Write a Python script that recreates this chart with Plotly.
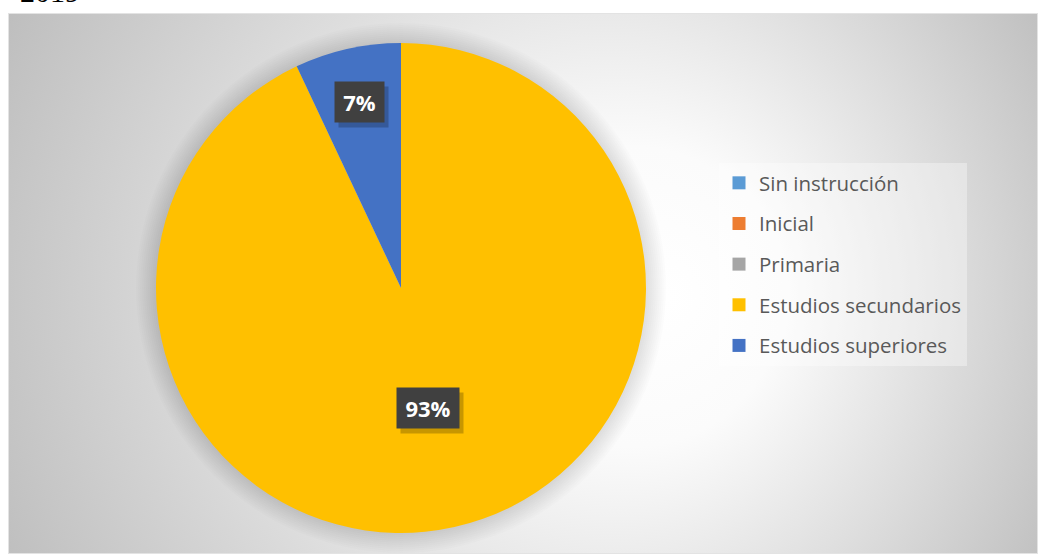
import base64
import math

import plotly.graph_objects as go

# ==========================================================
# DATA
# ==========================================================

categories = [
    "Sin instrucción",
    "Inicial",
    "Primaria",
    "Estudios secundarios",
    "Estudios superiores",
]
shares = [0, 0, 0, 93, 7]
colours = ["#5B9BD5", "#ED7D31", "#A5A5A5", "#FFC000", "#4472C4"]
caption_text = "2019"

# ==========================================================
# LAYOUT CONSTANTS
# ==========================================================

W, H = 1038, 554
PIE_CX, PIE_CY, PIE_R = 401, 288, 245   # pixels, from top-left
BOX_X, BOX_Y = 8, 13                    # chart-area box origin

dom_x = [(PIE_CX - PIE_R) / W, (PIE_CX + PIE_R) / W]
dom_y = [(H - PIE_CY - PIE_R) / H, (H - PIE_CY + PIE_R) / H]

fig = go.Figure()

# Pie itself (clockwise from 12 o'clock, like Excel)
fig.add_trace(
    go.Pie(
        labels=categories,
        values=shares,
        sort=False,
        direction="clockwise",
        rotation=0,
        marker=dict(colors=colours, line=dict(width=0)),
        textinfo="none",
        hoverinfo="label+percent",
        showlegend=False,
        domain=dict(x=dom_x, y=dom_y),
    )
)

# Legend entries, one group per category so the gap can be set
for name, col in zip(categories, colours):
    fig.add_trace(
        go.Scatter(
            x=[None], y=[None],
            mode="markers",
            name=name,
            legendgroup=name,
            marker=dict(symbol="square", size=13, color=col),
        )
    )

# ==========================================================
# DATA LABELS (dark boxes, white bold text, drop shadow)
# ==========================================================

total = sum(shares)
cum = 0
for name, val in zip(categories, shares):
    if val == 0:
        continue
    frac = val / total
    mid = (cum + frac / 2) * 2 * math.pi
    cum += frac
    r_frac = 0.78 if frac < 0.25 else 0.5
    px_x = PIE_CX + r_frac * PIE_R * math.sin(mid)
    px_y = PIE_CY - r_frac * PIE_R * math.cos(mid)
    label = f"{round(frac * 100)}%"
    box_w = 13 * len(label) + 11
    for shadow in (True, False):
        fig.add_annotation(
            x=px_x / W, y=1 - px_y / H,
            xref="paper", yref="paper",
            xanchor="center", yanchor="middle",
            text="\u00a0" if shadow else label,
            showarrow=False,
            width=box_w, height=28,
            borderpad=6,
            bgcolor="rgba(0,0,0,0.22)" if shadow else "#404040",
            font=dict(family="Open Sans", size=22, weight=700, color="white"),
            xshift=4 if shadow else 0,
            yshift=-5 if shadow else 0,
        )

# Cut-off caption above the chart
fig.add_annotation(
    x=18 / W, y=1, xref="paper", yref="paper",
    xanchor="left", yanchor="bottom",
    yshift=-10,
    text=caption_text,
    showarrow=False,
    font=dict(family="Liberation Serif", size=30, color="black"),
)

# ==========================================================
# BACKGROUND: radial gradient chart area + soft pie shadow
# ==========================================================

bw, bh = W - BOX_X, H - BOX_Y
svg = f"""<svg xmlns="http://www.w3.org/2000/svg" width="{bw}" height="{bh}" viewBox="0 0 {bw} {bh}" preserveAspectRatio="none">
<defs><radialGradient id="g" gradientUnits="userSpaceOnUse" cx="520" cy="280" r="600" fx="660" fy="285">
<stop offset="0" stop-color="#ffffff"/><stop offset="0.25" stop-color="#fbfbfb"/>
<stop offset="1" stop-color="#bdbdbd"/></radialGradient></defs>
<rect x="0.5" y="0.5" width="{bw - 1}" height="{bh - 1}" fill="url(#g)" stroke="#e3e3e3" stroke-width="1"/></svg>"""
svg_src = "data:image/svg+xml;base64," + base64.b64encode(svg.encode()).decode()

fig.add_layout_image(
    source=svg_src,
    xref="paper", yref="paper",
    x=BOX_X / W, y=1 - BOX_Y / H,
    sizex=bw / W, sizey=bh / H,
    xanchor="left", yanchor="top",
    sizing="stretch",
    layer="below",
)

for k in range(1, 11):
    rr = PIE_R + 2 * k
    fig.add_shape(
        type="circle",
        xref="paper", yref="paper",
        x0=(PIE_CX - rr) / W, x1=(PIE_CX + rr) / W,
        y0=(H - PIE_CY - rr) / H, y1=(H - PIE_CY + rr) / H,
        fillcolor="rgba(0,0,0,0.012)",
        line=dict(width=0),
        layer="below",
    )

fig.update_layout(
    width=W,
    height=H,
    margin=dict(l=0, r=0, t=0, b=0),
    paper_bgcolor="white",
    plot_bgcolor="rgba(0,0,0,0)",
    xaxis=dict(visible=False, range=[0, 1]),
    yaxis=dict(visible=False, range=[0, 1]),
    showlegend=True,
    legend=dict(
        x=719 / W, y=1 - 163 / H,
        xanchor="left", yanchor="top",
        bgcolor="rgba(255,255,255,0.35)",
        font=dict(family="Open Sans", size=20.5, color="#595959"),
        traceorder="grouped",
        tracegroupgap=11,
        itemsizing="trace",
    ),
)

# page has a default 8px body margin; drop it so the figure sits at 0,0
fig.write_html(
    "out.html",
    config={"displayModeBar": False},
    post_script="document.body.style.margin='0';",
)
